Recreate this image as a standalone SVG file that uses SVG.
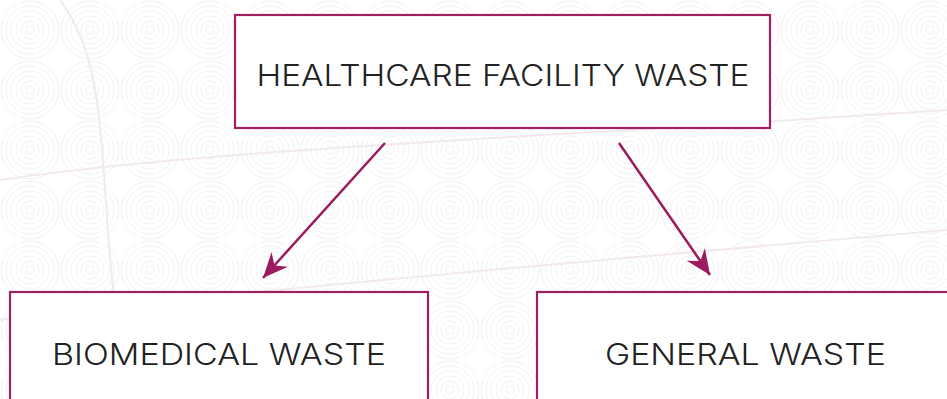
<svg xmlns="http://www.w3.org/2000/svg" width="947" height="399" viewBox="0 0 947 399">
  <defs>
    <pattern id="rings" x="0" y="0" width="60" height="60" patternUnits="userSpaceOnUse">
      <g fill="none" stroke="#f0f1f3" stroke-width="1">
        <circle cx="30" cy="30" r="4"/>
        <circle cx="30" cy="30" r="9"/>
        <circle cx="30" cy="30" r="14"/>
        <circle cx="30" cy="30" r="19"/>
        <circle cx="30" cy="30" r="24"/>
        <circle cx="30" cy="30" r="29"/>
      </g>
    </pattern>
    <marker id="arrow" markerUnits="userSpaceOnUse" markerWidth="28" markerHeight="28" viewBox="-26 -14 28 28" refX="0" refY="0" orient="auto">
      <path d="M0,0 L-25,-11 L-17,0 L-25,11 Z" fill="#9b1b5e"/>
    </marker>
    <style>
      .box { fill: #ffffff; stroke: #a0205f; stroke-width: 2.2; }
      .label { font-family: "Inter", "Liberation Sans", sans-serif; font-size: 30px; font-weight: 300; fill: #222222; text-anchor: middle; }
      .conn { stroke: #9b1b5e; stroke-width: 2.5; fill: none; marker-end: url(#arrow); }
    </style>
  </defs>
  <rect width="947" height="399" fill="#ffffff"/>
  <rect width="947" height="399" fill="url(#rings)"/>
  <g fill="none" stroke="#f3e9ed" stroke-width="2">
    <path d="M60,0 C120,80 90,200 130,399"/>
    <path d="M0,180 C200,150 500,140 947,110"/>
    <path d="M0,320 C250,290 600,260 947,230"/>
  </g>

  <g id="connectors">
    <line class="conn" x1="385" y1="143" x2="263" y2="278"/>
    <line class="conn" x1="619" y1="143" x2="710" y2="275"/>
  </g>

  <g id="node-healthcare">
    <rect class="box" x="235" y="15" width="535" height="113"/>
    <text class="label" x="503" y="86" textLength="493" lengthAdjust="spacingAndGlyphs">HEALTHCARE FACILITY WASTE</text>
  </g>
  <g id="node-biomedical">
    <rect class="box" x="10" y="292" width="418" height="120"/>
    <text class="label" x="219" y="365" textLength="334" lengthAdjust="spacingAndGlyphs">BIOMEDICAL WASTE</text>
  </g>
  <g id="node-general">
    <rect class="box" x="537" y="292" width="420" height="120"/>
    <text class="label" x="745.5" y="365" textLength="281" lengthAdjust="spacingAndGlyphs">GENERAL WASTE</text>
  </g>
</svg>
